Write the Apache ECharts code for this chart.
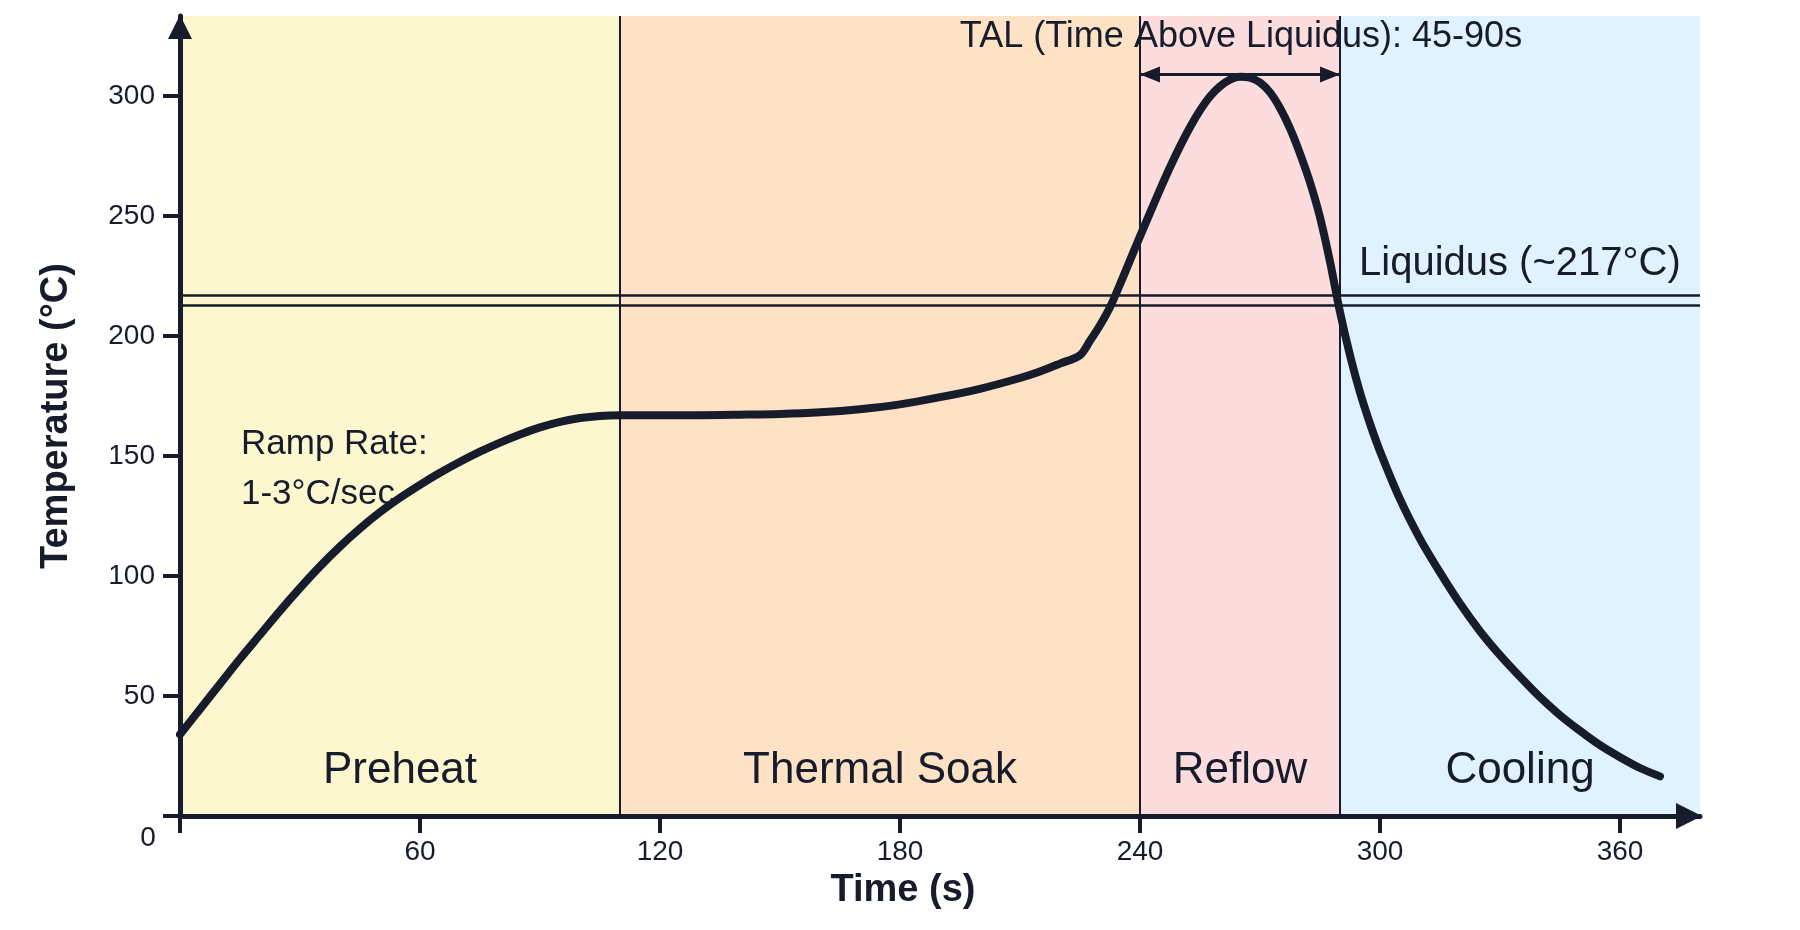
<!DOCTYPE html>
<html>
<head>
<meta charset="utf-8">
<title>Reflow soldering profile</title>
<script src="https://cdn.jsdelivr.net/npm/echarts@6/dist/echarts.min.js"></script>
<style>
  html, body { margin: 0; padding: 0; background: #fff; }
  #chart { width: 1800px; height: 930px; }
</style>
</head>
<body>
<div id="chart"></div>
<script>
// reflow profile: [time (s), temperature (°C)]
const profile = [
  [0, 34], [5, 44.5], [10, 55], [15, 65.5], [20, 75.5], [25, 85.5], [30, 95],
  [35, 104], [40, 112.3], [45, 119.8], [50, 126.6], [55, 132.6], [60, 138],
  [65, 143], [70, 147.6], [75, 151.8], [80, 155.6], [85, 159], [90, 161.9],
  [95, 164.2], [100, 165.8], [105, 166.7], [110, 167], [120, 167], [130, 167],
  [140, 167.2], [150, 167.5], [160, 168.2], [170, 169.5], [180, 171.5],
  [190, 174.5], [200, 178], [210, 182.5], [215, 185.2], [220, 188.5], [225, 192],
  [227.5, 198], [230, 204.5], [232.5, 212], [235, 221.5], [237.5, 231.5], [240, 241.5],
  [242.5, 251.3], [245, 261], [247.5, 270.3], [250, 279], [252.5, 287], [255, 294],
  [257.5, 299.8], [260, 304], [262.5, 306.8], [265, 308], [267.5, 307.6], [270, 305.6],
  [272.5, 301.5], [275, 295], [277.5, 286.5], [280, 276], [282.5, 264], [285, 249.5],
  [287.5, 231], [290, 210], [292.5, 192], [295, 176.5], [297.5, 163.5], [300, 152],
  [305, 132], [310, 115.5], [315, 101.5], [320, 88.5], [325, 77], [330, 67], [335, 58],
  [340, 49.5], [345, 42], [350, 35.5], [355, 29.5], [360, 24.5], [365, 20], [370, 16.5]
];

const phaseNames = ['Preheat', 'Thermal Soak', 'Reflow', 'Cooling'];
const phaseEdges = [0, 110, 240, 290, 380];
const liquidusLevels = [217, 213];
const talRange = [240, 290];
const talLevel = 309;
const xTicks = [0, 60, 120, 180, 240, 300, 360];
const yTicks = [0, 50, 100, 150, 200, 250, 300];

const ink = '#161c2b';
const font = '"Liberation Sans", Arial, Helvetica, sans-serif';
const phaseColors = ['#fdf7cf', '#fde2c5', '#fcdcdc', '#e0f2fd'];

const chart = echarts.init(document.getElementById('chart'));

const areas = phaseNames.map(function (name, i) {
  return [
    { xAxis: phaseEdges[i], name: name, itemStyle: { color: phaseColors[i] } },
    { xAxis: phaseEdges[i + 1] }
  ];
});

const option = {
  animation: false,
  backgroundColor: '#ffffff',
  grid: { left: 180, right: 100, top: 16, bottom: 114 },
  xAxis: {
    type: 'value',
    min: 0,
    max: 380,
    z: 3,
    name: 'Time (s)',
    nameLocation: 'middle',
    nameGap: 56,
    nameTextStyle: {
      fontFamily: font, fontSize: 38, fontWeight: 'bold', color: ink,
      padding: [0, 74, 0, 0]
    },
    splitLine: { show: false },
    axisLine: {
      lineStyle: { color: ink, width: 5 },
      symbol: ['none', 'triangle'],
      symbolSize: [26, 26],
      symbolOffset: [0, -11]
    },
    axisTick: {
      customValues: xTicks,
      length: 17,
      lineStyle: { color: ink, width: 4 }
    },
    axisLabel: {
      customValues: xTicks.slice(1),
      margin: 22,
      fontFamily: font, fontSize: 28, color: ink
    }
  },
  yAxis: {
    type: 'value',
    min: 0,
    max: 333.33,
    z: 3,
    name: 'Temperature (°C)',
    nameLocation: 'middle',
    nameGap: 104,
    nameTextStyle: { fontFamily: font, fontSize: 38, fontWeight: 'bold', color: ink },
    splitLine: { show: false },
    axisLine: {
      show: true,
      lineStyle: { color: ink, width: 5 },
      symbol: ['none', 'triangle'],
      symbolSize: [24, 24],
      symbolOffset: [0, -11]
    },
    axisTick: {
      show: true,
      customValues: yTicks,
      length: 17,
      lineStyle: { color: ink, width: 4 }
    },
    axisLabel: {
      customValues: yTicks.slice(1),
      margin: 25,
      fontFamily: font, fontSize: 28, color: ink
    }
  },
  graphic: [
    {
      type: 'text', z: 1, z2: 50, x: 241, y: 419,
      style: {
        text: 'Ramp Rate:\n1-3°C/sec', font: '35px ' + font, fill: ink,
        lineHeight: 50
      }
    },
    {
      type: 'text', z: 1, z2: 50, x: 1241, y: 37,
      style: {
        text: 'TAL (Time Above Liquidus): 45-90s', font: '36px ' + font, fill: ink,
        align: 'center', verticalAlign: 'middle'
      }
    },
    {
      type: 'text', z: 1, z2: 50, x: 1359, y: 264,
      style: {
        text: 'Liquidus (~217°C)', font: '40px ' + font, fill: ink,
        verticalAlign: 'middle'
      }
    },
    {
      type: 'text', z: 1, z2: 50, x: 148, y: 838,
      style: {
        text: '0', font: '28px ' + font, fill: ink,
        align: 'center', verticalAlign: 'middle'
      }
    }
  ],
  series: [
    {
      name: 'phases',
      type: 'line',
      data: [],
      silent: true,
      markArea: {
        z: 0,
        silent: true,
        label: {
          show: true,
          position: 'insideBottom',
          distance: 23,
          fontFamily: font,
          fontSize: 44,
          color: ink
        },
        data: areas
      },
      markLine: {
        z: 1,
        silent: true,
        symbol: ['none', 'none'],
        label: { show: false },
        lineStyle: { color: ink, width: 2, type: 'solid' },
        data: phaseEdges.slice(1, -1).map(function (x) { return { xAxis: x }; })
          .concat(liquidusLevels.map(function (y) {
            return { yAxis: y, lineStyle: { width: 2.5 } };
          }))
      }
    },
    {
      name: 'Temperature',
      type: 'line',
      z: 2,
      data: profile,
      smooth: 0.3,
      showSymbol: false,
      lineStyle: { color: ink, width: 8, cap: 'round', join: 'round' },
      markLine: {
        silent: true,
        symbol: ['triangle', 'triangle'],
        symbolSize: [16, 20],
        symbolOffset: [[0, 10], [0, 10]],
        label: { show: false },
        lineStyle: { color: ink, width: 3, type: 'solid' },
        data: [[
          { coord: [talRange[0], talLevel] },
          { coord: [talRange[1], talLevel] }
        ]]
      }
    }
  ]
};

chart.setOption(option);
</script>
</body>
</html>
